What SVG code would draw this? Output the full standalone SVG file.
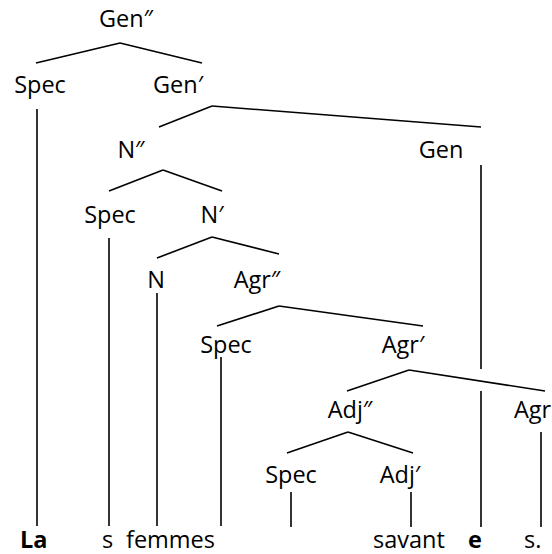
<svg xmlns="http://www.w3.org/2000/svg" width="552" height="554" viewBox="0 0 552 554">
  <style>
    text { font-family: "Open Sans", "Noto Sans", "Liberation Sans", sans-serif; font-size: 23.5px; fill: #000; }
    .mid { text-anchor: middle; }
    .b { font-weight: bold; }
    #edges line { stroke: #000; stroke-width: 1.6; stroke-linecap: butt; }
  </style>
  <rect width="552" height="554" fill="#fff"/>

  <!-- tree edges -->
  <g id="edges">
    <!-- Gen'' -->
    <line x1="120" y1="43" x2="36" y2="63"/>
    <line x1="120" y1="43" x2="202" y2="63"/>
    <!-- Spec (Gen'') to La -->
    <line x1="37" y1="109" x2="37" y2="526"/>
    <!-- Gen' -->
    <line x1="212" y1="106" x2="159" y2="127"/>
    <line x1="212" y1="106" x2="481" y2="127"/>
    <!-- Gen to e (interrupted where the Agr' branch crosses) -->
    <line x1="481" y1="165" x2="481" y2="369"/>
    <line x1="481" y1="391" x2="481" y2="527"/>
    <!-- N'' -->
    <line x1="163" y1="170" x2="109" y2="191"/>
    <line x1="163" y1="170" x2="222" y2="191"/>
    <!-- Spec (N'') to s -->
    <line x1="109" y1="238" x2="109" y2="526"/>
    <!-- N' -->
    <line x1="212" y1="237" x2="157" y2="258"/>
    <line x1="212" y1="237" x2="279" y2="254"/>
    <!-- N to femmes -->
    <line x1="157" y1="293" x2="157" y2="526"/>
    <!-- Agr'' -->
    <line x1="279" y1="306" x2="217" y2="326"/>
    <line x1="279" y1="306" x2="423" y2="326"/>
    <!-- Spec (Agr'') -->
    <line x1="221" y1="357" x2="221" y2="526"/>
    <!-- Agr' -->
    <line x1="409" y1="370" x2="347" y2="391"/>
    <line x1="409" y1="370" x2="545" y2="391"/>
    <!-- Agr to s. -->
    <line x1="541" y1="432" x2="541" y2="527"/>
    <!-- Adj'' -->
    <line x1="348" y1="432" x2="287" y2="453"/>
    <line x1="348" y1="432" x2="413" y2="453"/>
    <!-- Spec (Adj'') -->
    <line x1="291" y1="492" x2="291" y2="527"/>
    <!-- Adj' to savant -->
    <line x1="411" y1="492" x2="411" y2="527"/>
  </g>

  <g id="gen2"><text class="mid" x="126" y="27">Gen″</text></g>
  <g id="spec-gen"><text class="mid" x="40" y="93">Spec</text></g>
  <g id="gen1"><text class="mid" x="178" y="93">Gen′</text></g>
  <g id="n2"><text class="mid" x="131" y="158">N″</text></g>
  <g id="gen0"><text class="mid" x="441" y="158">Gen</text></g>
  <g id="spec-n"><text class="mid" x="110" y="223">Spec</text></g>
  <g id="n1"><text class="mid" x="212" y="223">N′</text></g>
  <g id="n0"><text class="mid" x="156" y="288">N</text></g>
  <g id="agr2"><text class="mid" x="257" y="288">Agr″</text></g>
  <g id="spec-agr"><text class="mid" x="226" y="353">Spec</text></g>
  <g id="agr1"><text class="mid" x="403" y="353">Agr′</text></g>
  <g id="adj2"><text class="mid" x="350" y="418">Adj″</text></g>
  <g id="agr0"><text x="514" y="418">Agr</text></g>
  <g id="spec-adj"><text class="mid" x="291" y="483">Spec</text></g>
  <g id="adj1"><text class="mid" x="400" y="483">Adj′</text></g>

  <!-- terminal string -->
  <g id="words">
    <text class="b" x="20" y="548">La</text>
    <text x="102" y="548">s</text>
    <text x="126" y="548">femmes</text>
    <text x="373" y="548">savant</text>
    <text class="b" x="468" y="548">e</text>
    <text x="524" y="548">s.</text>
  </g>
</svg>
